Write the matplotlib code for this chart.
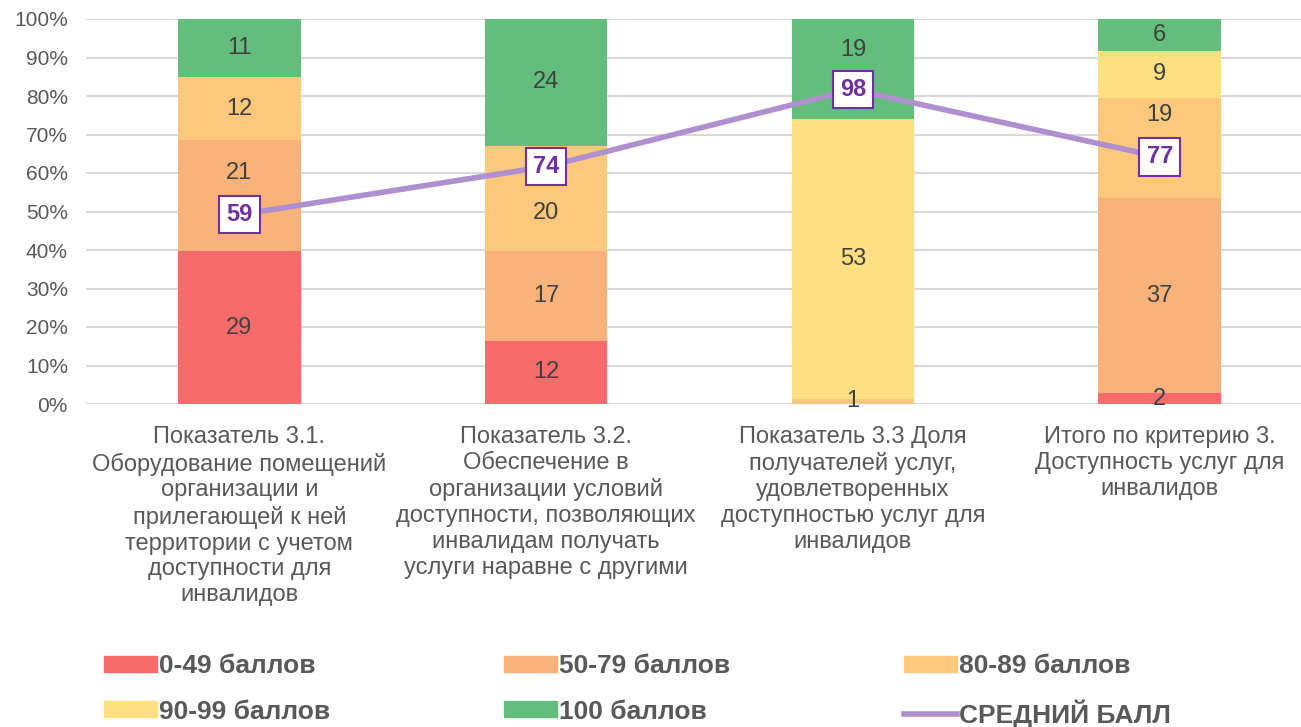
import numpy as np
import matplotlib
matplotlib.use("Agg")
import matplotlib.pyplot as plt
from matplotlib.patches import Patch
from matplotlib.lines import Line2D

# данные
categories = [
    "Показатель 3.1.\nОборудование помещений\nорганизации и\nприлегающей к ней\nтерритории с учетом\nдоступности для\nинвалидов",
    "Показатель 3.2.\nОбеспечение в\nорганизации условий\nдоступности, позволяющих\nинвалидам получать\nуслуги наравне с другими",
    "Показатель 3.3 Доля\nполучателей услуг,\nудовлетворенных\nдоступностью услуг для\nинвалидов",
    "Итого по критерию 3.\nДоступность услуг для\nинвалидов",
]
s_0_49 = [29, 12, 0, 2]
s_50_79 = [21, 17, 0, 37]
s_80_89 = [12, 20, 1, 19]
s_90_99 = [0, 0, 53, 9]
s_100 = [11, 24, 19, 6]
avg_score = [59, 74, 98, 77]

series_names = ["0-49 баллов", "50-79 баллов", "80-89 баллов", "90-99 баллов", "100 баллов"]
colors = ["#F76C6A", "#F9B37A", "#FCC97C", "#FEE083", "#63BE7B"]
line_color = "#B08FCE"
label_color = "#7030A0"

# сдвиги подписей (серия, столбец) -> доля оси, как в исходной диаграмме
label_shift = {(1, 0): 0.06, (2, 1): -0.038, (4, 2): 0.05, (2, 3): 0.086}

plt.rcParams['font.family'] = ['Liberation Sans', 'DejaVu Sans']

fig = plt.figure(figsize=(13.01, 7.27), dpi=100)
ax = fig.add_axes([86/1301, 1-404/727, 1227/1301, 385/727])

series = np.array([s_0_49, s_50_79, s_80_89, s_90_99, s_100], dtype=float)
totals = series.sum(axis=0)
x = np.arange(len(categories))
bottom = np.zeros(len(categories))
for k, (vals, c) in enumerate(zip(series, colors)):
    share = vals / totals
    ax.bar(x, share, 0.4, bottom=bottom, color=c, zorder=2)
    for i in range(len(x)):
        if vals[i] > 0:
            yy = bottom[i] + share[i]/2 + label_shift.get((k, i), 0)
            ax.text(x[i], yy, f"{int(vals[i])}", ha='center', va='center',
                    fontsize=17, color="#404040", zorder=3)
    bottom += share

ax.set_xlim(-0.5, 3.5)
ax.set_ylim(0, 1)
ax.set_yticks(np.arange(0, 1.01, 0.1))
ax.set_yticklabels([f"{int(round(v*100))}%" for v in np.arange(0, 1.01, 0.1)])
ax.yaxis.grid(True, color="#D9D9D9", linewidth=1.5, zorder=0)
ax.set_axisbelow(True)
ax.tick_params(axis='y', length=0, labelsize=15, labelcolor="#595959", pad=13)
ax.set_xticks(x)
ax.set_xticklabels(categories, fontsize=17, color="#595959", linespacing=1.23, va='top')
ax.tick_params(axis='x', length=0, pad=16)
for s in ax.spines.values():
    s.set_visible(False)

# средний балл
ax2 = ax.twinx()
ax2.plot(x, avg_score, color=line_color, linewidth=4, zorder=4, solid_capstyle='butt')
ax2.set_ylim(0, 120)
ax2.axis('off')
for i, v in enumerate(avg_score):
    ax2.text(x[i], v, str(v), ha='center', va='center', fontsize=17, fontweight='bold',
             color=label_color, zorder=5,
             bbox=dict(boxstyle='square,pad=0.3', facecolor='white', edgecolor=label_color, linewidth=1.5))

# обрезанная подпись сверху
fig.text(38/1301, 1.0 + 24/727, "рис. 3.3)", fontsize=28, fontweight='bold', family='Liberation Serif',
         va='baseline', ha='left', color='black')

handles = [Patch(color=colors[0]), Patch(color=colors[3]),
           Patch(color=colors[1]), Patch(color=colors[4]),
           Patch(color=colors[2]), Line2D([], [], color=line_color, linewidth=4)]
labels = [series_names[0], series_names[3], series_names[1], series_names[4], series_names[2], "СРЕДНИЙ БАЛЛ"]
leg = fig.legend(handles, labels, ncol=3, loc='upper left', bbox_to_anchor=(104/1301, 1-654/727),
                 frameon=False, borderpad=0, borderaxespad=0,
                 handlelength=2.0, handleheight=0.55, handletextpad=0.08,
                 columnspacing=6.6, labelspacing=0.82,
                 prop={'size': 19, 'weight': 'bold'})
for t in leg.get_texts():
    t.set_color("#595959")

fig.savefig("out.png", dpi=100)
